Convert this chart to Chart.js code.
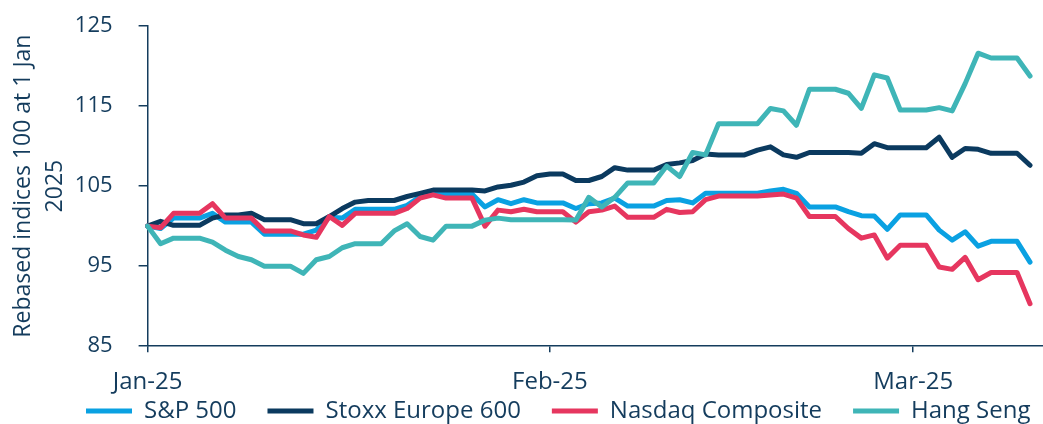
<!DOCTYPE html>
<html lang="en">
<head>
    <meta charset="UTF-8">
    <title>Rebased indices</title>
    <style>
        html, body {
            margin: 0;
            padding: 0;
            background: #ffffff;
        }
        .wrap {
            width: 1043px;
            height: 424px;
        }
    </style>
</head>
<body>
    <div class="wrap">
        <canvas id="chart" width="1043" height="424"></canvas>
    </div>

    <script src="https://cdn.jsdelivr.net/npm/chart.js"></script>
    <script>
        // daily points from 1 Jan 2025, one extra empty day at the end of the axis
        const startDate = '2025-01-01';
        const dayCount = 70;
        const monthNames = ['Jan', 'Feb', 'Mar', 'Apr', 'May', 'Jun', 'Jul', 'Aug', 'Sep', 'Oct', 'Nov', 'Dec'];

        const seriesNames = ['S&P 500', 'Stoxx Europe 600', 'Nasdaq Composite', 'Hang Seng'];

        const sp500 = [
            100, 99.7, 101, 101, 101, 101.6, 100.5, 100.5, 100.5, 99, 99, 99, 99, 99.5,
            101.1, 101, 102.1, 102.1, 102.1, 102.1, 102.6, 103.7, 104.1, 104, 104, 104, 102.4, 103.3,
            102.8, 103.3, 102.9, 102.9, 102.9, 102.2, 102.8, 102.9, 103.5, 102.5, 102.5, 102.5, 103.2, 103.3,
            102.9, 104.1, 104.1, 104.1, 104.1, 104.1, 104.4, 104.6, 104.1, 102.4, 102.4, 102.4, 101.8, 101.3,
            101.25, 99.6, 101.4, 101.4, 101.4, 99.5, 98.25, 99.3, 97.5, 98.1, 98.1, 98.1, 95.5
        ];
        const stoxx600 = [
            100, 100.6, 100.1, 100.1, 100.1, 101, 101.4, 101.4, 101.6, 100.8, 100.8, 100.8, 100.3, 100.3,
            101.2, 102.2, 103, 103.2, 103.2, 103.2, 103.7, 104.1, 104.5, 104.5, 104.5, 104.5, 104.4, 104.9,
            105.1, 105.5, 106.3, 106.5, 106.5, 105.7, 105.7, 106.2, 107.3, 107, 107, 107, 107.7, 107.9,
            108.2, 109, 108.9, 108.9, 108.9, 109.5, 109.9, 108.9, 108.6, 109.2, 109.2, 109.2, 109.2, 109.1,
            110.3, 109.8, 109.8, 109.8, 109.8, 111.1, 108.6, 109.7, 109.6, 109.1, 109.1, 109.1, 107.6
        ];
        const nasdaq = [
            100, 99.8, 101.6, 101.6, 101.6, 102.8, 101, 101, 101, 99.4, 99.4, 99.4, 98.9, 98.6,
            101.2, 100.1, 101.6, 101.6, 101.6, 101.6, 102.2, 103.5, 103.9, 103.5, 103.5, 103.5, 100, 102,
            101.8, 102.1, 101.8, 101.8, 101.8, 100.5, 101.8, 102, 102.5, 101.1, 101.1, 101.1, 102.1, 101.7,
            101.8, 103.3, 103.75, 103.75, 103.75, 103.75, 103.9, 104, 103.5, 101.2, 101.2, 101.2, 99.7, 98.5,
            98.9, 96, 97.6, 97.6, 97.6, 94.9, 94.6, 96.1, 93.3, 94.2, 94.2, 94.2, 90.3
        ];
        const hangSeng = [
            100, 97.8, 98.5, 98.5, 98.5, 98, 97, 96.2, 95.8, 95, 95, 95, 94.1, 95.8,
            96.2, 97.3, 97.8, 97.8, 97.8, 99.4, 100.3, 98.7, 98.25, 100, 100, 100, 100.75, 101,
            100.8, 100.8, 100.8, 100.8, 100.8, 100.75, 103.6, 102.4, 103.6, 105.4, 105.4, 105.4, 107.5, 106.2,
            109.2, 108.9, 112.8, 112.8, 112.8, 112.8, 114.7, 114.4, 112.6, 117.1, 117.1, 117.1, 116.6, 114.7,
            118.9, 118.5, 114.5, 114.5, 114.5, 114.8, 114.4, 117.8, 121.6, 121, 121, 121, 118.75
        ];

        const yTicks = [85, 95, 105, 115, 125];
        const yTitle = ['Rebased indices 100 at 1 Jan', '2025'];

        const navy = '#143c5d';
        const colours = ['#0aa1e2', '#0b3a5f', '#e6365f', '#3fb5b7'];
        const fontFamily = "'Open Sans', 'Noto Sans', sans-serif";

        // build the date labels
        const dayLabels = [];
        const d0 = new Date(startDate + 'T00:00:00Z');
        for (let i = 0; i < dayCount; i++) {
            const d = new Date(d0.getTime() + i * 86400000);
            dayLabels.push(d.toISOString().slice(0, 10));
        }

        function monthLabel(iso) {
            const m = parseInt(iso.slice(5, 7), 10) - 1;
            return monthNames[m] + '-' + iso.slice(2, 4);
        }

        // legend is drawn lower than its layout box so it can share space with the x labels
        const legendNudge = {
            id: 'legendNudge',
            beforeInit(chart) {
                const fit = chart.legend.fit;
                chart.legend.fit = function () {
                    fit.call(this);
                    this.height = 11;
                };
            },
            afterLayout(chart) {
                const lg = chart.legend;
                lg.top = 368;
                lg.bottom = 424;
                lg.left = 55;
                lg.right = 1100;
            }
        };

        const seriesData = [sp500, stoxx600, nasdaq, hangSeng];

        new Chart(document.getElementById('chart'), {
            type: 'line',
            data: {
                labels: dayLabels,
                datasets: seriesData.map((vals, i) => ({
                    label: seriesNames[i],
                    data: vals,
                    borderColor: colours[i],
                    backgroundColor: colours[i],
                    borderWidth: 5,
                    borderCapStyle: 'round',
                    borderJoinStyle: 'round',
                    pointRadius: 0,
                    tension: 0,
                    fill: false,
                    order: seriesData.length - i
                }))
            },
            options: {
                responsive: false,
                animation: false,
                layout: {
                    padding: { top: 26, right: 0, bottom: 0, left: 0 }
                },
                plugins: {
                    legend: {
                        position: 'bottom',
                        align: 'start',
                        labels: {
                            usePointStyle: true,
                            pointStyle: 'line',
                            pointStyleWidth: 46,
                            boxHeight: 24,
                            padding: 31,
                            color: navy,
                            font: { family: fontFamily, size: 24 },
                            sort: (a, b) => a.datasetIndex - b.datasetIndex
                        }
                    },
                    tooltip: { enabled: false }
                },
                scales: {
                    x: {
                        type: 'category',
                        offset: false,
                        afterBuildTicks(scale) {
                            scale.ticks = scale.ticks.filter(t => dayLabels[t.value].endsWith('-01'));
                        },
                        ticks: {
                            autoSkip: false,
                            maxRotation: 0,
                            padding: 16,
                            color: navy,
                            font: { family: fontFamily, size: 24 },
                            callback(value) {
                                return monthLabel(dayLabels[value]);
                            }
                        },
                        grid: {
                            drawOnChartArea: false,
                            drawTicks: true,
                            tickLength: 6,
                            color: navy,
                            lineWidth: 1.5
                        },
                        border: { display: true, color: navy, width: 1.5 }
                    },
                    y: {
                        min: 85,
                        max: 125,
                        afterBuildTicks(scale) {
                            scale.ticks = yTicks.map(v => ({ value: v }));
                        },
                        afterFit(scale) {
                            // keep the tick padding from pushing the plot top down
                            scale.paddingTop = 0;
                            scale.paddingBottom = 0;
                        },
                        ticks: {
                            padding: 26,
                            color: navy,
                            font: { family: fontFamily, size: 22 }
                        },
                        grid: {
                            drawOnChartArea: false,
                            drawTicks: true,
                            tickLength: 9,
                            color: navy,
                            lineWidth: 1.5
                        },
                        border: { display: true, color: navy, width: 1.5 },
                        title: {
                            display: true,
                            text: yTitle,
                            color: navy,
                            font: { family: fontFamily, size: 23, lineHeight: 1.41 },
                            padding: { top: 7, bottom: -23 }
                        }
                    }
                }
            },
            plugins: [legendNudge]
        });
    </script>
</body>
</html>
